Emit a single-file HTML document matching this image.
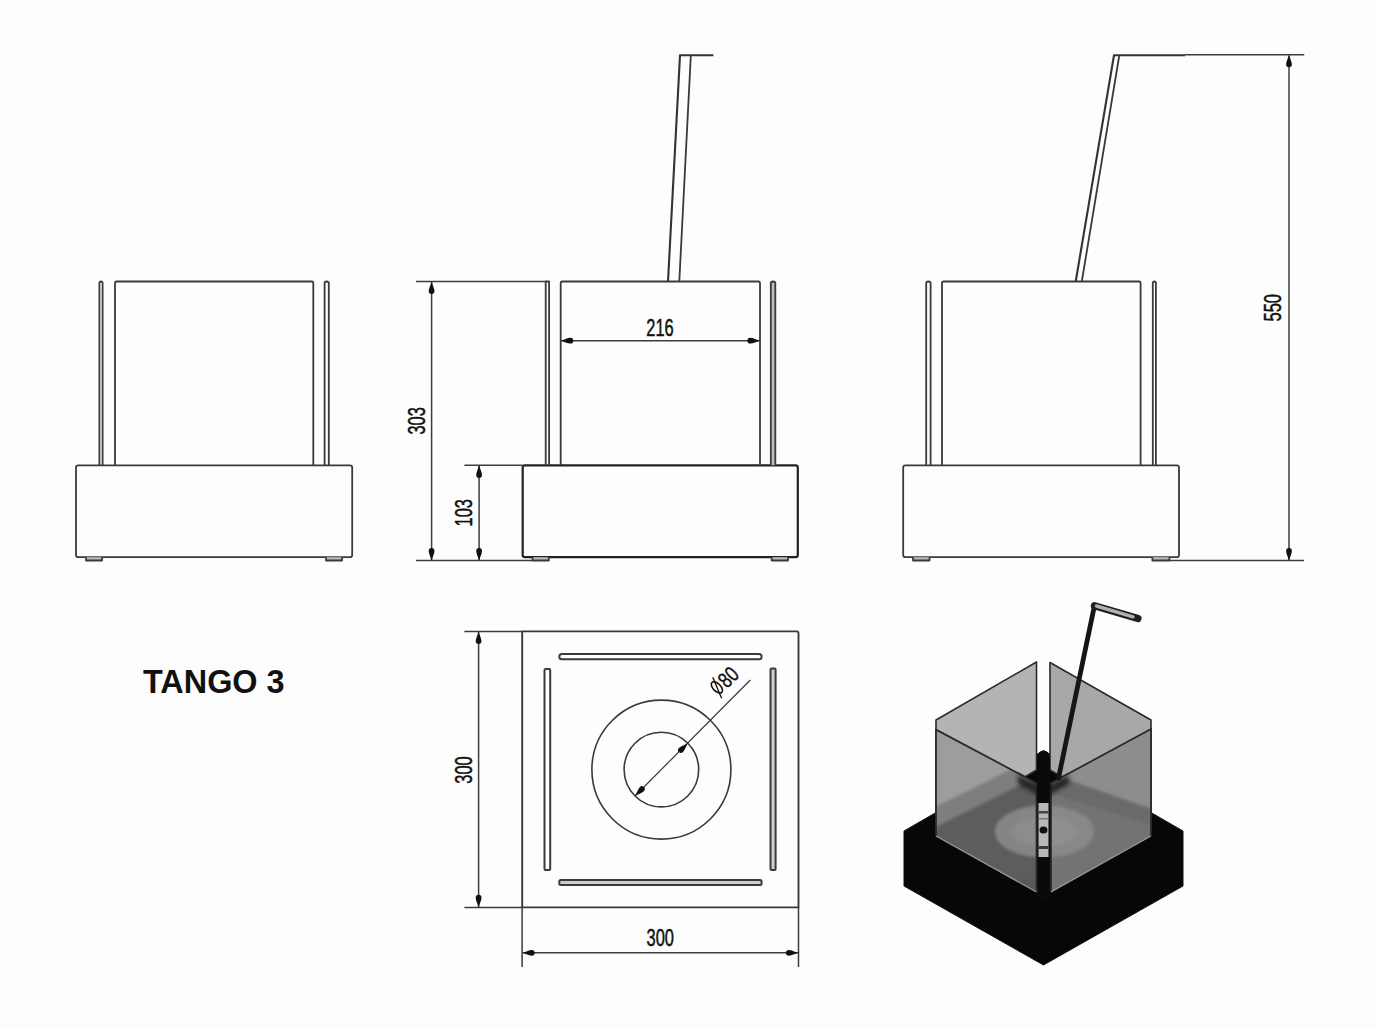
<!DOCTYPE html>
<html><head><meta charset="utf-8">
<style>
html,body{margin:0;padding:0;background:#fdfdfd;}
body{width:1377px;height:1029px;overflow:hidden;position:relative;}
svg{position:absolute;left:0;top:0;}
text{font-family:"Liberation Sans",sans-serif;fill:#111;}
</style></head><body>
<svg width="1377" height="1029" viewBox="0 0 1377 1029">
<defs>
<path id="arr" d="M0,0 C-0.7,-3 -2.9,-7 -2.9,-9.6 Q-2.9,-12.6 0,-12.6 Q2.9,-12.6 2.9,-9.6 C2.9,-7 0.7,-3 0,0 Z"/>
</defs>
<g fill="none" stroke="#3a3a3a" stroke-width="1.8" stroke-linejoin="round">
<!-- VIEW 1 -->
<path d="M76,467.5 Q76,465.3 78.2,465.3 L350,465.3 Q352.2,465.3 352.2,467.5 L352.2,555 Q352.2,557.2 350,557.2 L78.2,557.2 Q76,557.2 76,555 Z"/>
<path d="M86,557.2 L86,560.5 L102,560.5 L102,557.2" fill="#bbb"/>
<path d="M326,557.2 L326,560.5 L342,560.5 L342,557.2" fill="#bbb"/>
<path d="M99.4,465.3 L99.4,282.5 Q101,280.5 102.6,282.5 L102.6,465.3"/>
<path d="M115,465.3 L115,283 Q115,281.5 116.5,281.5 L311.8,281.5 Q313.3,281.5 313.3,283 L313.3,465.3"/>
<path d="M324.6,465.3 L324.6,282.5 Q326.7,280.5 328.8,282.5 L328.8,465.3"/>

<!-- VIEW 2 -->
<path d="M522.7,467.5 Q522.7,465.3 524.9,465.3 L795.6,465.3 Q797.8,465.3 797.8,467.5 L797.8,555 Q797.8,557.2 795.6,557.2 L524.9,557.2 Q522.7,557.2 522.7,555 Z" stroke-width="2.2" stroke="#222"/>
<path d="M532.5,557.2 L532.5,560.5 L548.8,560.5 L548.8,557.2" fill="#bbb"/>
<path d="M771.7,557.2 L771.7,560.5 L788,560.5 L788,557.2" fill="#bbb"/>
<path d="M545.7,465.3 L545.7,281.5 L549.1,281.5 L549.1,465.3"/>
<path d="M560.7,465.3 L560.7,283 Q560.7,281.5 562.2,281.5 L758.5,281.5 Q760,281.5 760,283 L760,465.3"/>
<path d="M770.8,465.3 L770.8,282.5 Q773,280.5 775.3,282.5 L775.3,465.3" fill="#bdbdbd"/>
<path d="M668,281.5 L680,55.2 L713.4,55.2" stroke="#333" stroke-width="2.1"/>
<path d="M679.3,281.5 L690.8,56"/>
<!-- dims -->
<g stroke-width="1.5" stroke="#3c3c3c">
<path d="M416,281.5 L545.7,281.5"/>
<path d="M416,560.5 L532.5,560.5"/>
<path d="M431.6,282 L431.6,560"/>
<path d="M464.4,465.3 L522.7,465.3"/>
<path d="M479.1,466 L479.1,560"/>
<path d="M561,340.7 L760,340.7"/>
</g>
</g>
<g fill="#111" stroke="none">
<use href="#arr" transform="translate(431.6,281.5) rotate(180)"/>
<use href="#arr" transform="translate(431.6,560.5)"/>
<use href="#arr" transform="translate(479.1,465.3) rotate(180)"/>
<use href="#arr" transform="translate(479.1,560.5)"/>
<use href="#arr" transform="translate(560.7,340.7) rotate(90)"/>
<use href="#arr" transform="translate(760,340.7) rotate(-90)"/>
</g>

<!-- TEXTS -->
<g fill="#111" stroke="none">
<text x="0" y="0" font-size="23.5" stroke="#111" stroke-width="0.5" transform="translate(660,335.6) scale(0.7,1)" text-anchor="middle">216</text>
<text x="0" y="0" font-size="23.5" stroke="#111" stroke-width="0.5" transform="translate(424.5,420.9) rotate(-90) scale(0.7,1)" text-anchor="middle">303</text>
<text x="0" y="0" font-size="23.5" stroke="#111" stroke-width="0.5" transform="translate(471.9,512.8) rotate(-90) scale(0.7,1)" text-anchor="middle">103</text>
<text x="0" y="0" font-size="23.5" stroke="#111" stroke-width="0.5" transform="translate(1281.2,307.7) rotate(-90) scale(0.7,1)" text-anchor="middle">550</text>
<text x="0" y="0" font-size="23.5" stroke="#111" stroke-width="0.5" transform="translate(471.9,770) rotate(-90) scale(0.7,1)" text-anchor="middle">300</text>
<text x="0" y="0" font-size="23.5" stroke="#111" stroke-width="0.5" transform="translate(660.2,945.8) scale(0.7,1)" text-anchor="middle">300</text>
<text x="143" y="693" font-size="33.5" font-weight="bold" fill="#000" textLength="141.5" lengthAdjust="spacingAndGlyphs">TANGO 3</text>
</g>
<!-- VIEW 3 -->
<g fill="none" stroke="#3a3a3a" stroke-width="1.8" stroke-linejoin="round">
<path d="M903.2,467.5 Q903.2,465.3 905.4,465.3 L1176.8,465.3 Q1179,465.3 1179,467.5 L1179,555 Q1179,557.2 1176.8,557.2 L905.4,557.2 Q903.2,557.2 903.2,555 Z"/>
<path d="M913,557.2 L913,560.5 L929.5,560.5 L929.5,557.2" fill="#bbb"/>
<path d="M1152.4,557.2 L1152.4,560.5 L1169.4,560.5 L1169.4,557.2" fill="#bbb"/>
<path d="M926.2,465.3 L926.2,282.5 Q928.4,280.5 930.6,282.5 L930.6,465.3"/>
<path d="M942,465.3 L942,283 Q942,281.5 943.5,281.5 L1139.1,281.5 Q1140.6,281.5 1140.6,283 L1140.6,465.3"/>
<path d="M1152.8,465.3 L1152.8,282.5 Q1154.3,280.5 1155.9,282.5 L1155.9,465.3"/>
<path d="M1075.7,281.5 L1114,55.3 L1185,55.3" stroke="#333" stroke-width="2.1"/>
<path d="M1081.8,281.5 L1119.2,56"/>
<g stroke-width="1.5" stroke="#3c3c3c">
<path d="M1185,54.7 L1304.2,54.7"/>
<path d="M1169.4,560.5 L1304,560.5"/>
<path d="M1289,55.5 L1289,560"/>
</g>
</g>
<g fill="#111" stroke="none">
<use href="#arr" transform="translate(1289,54.7) rotate(180)"/>
<use href="#arr" transform="translate(1289,560.5)"/>
</g>
<!-- TOP VIEW -->
<g fill="none" stroke="#3a3a3a" stroke-width="1.9" stroke-linejoin="round">
<path d="M522.2,907.4 L522.2,631.4 L796.5,631.4 Q798.5,631.4 798.5,633.4 L798.5,907.4 Z"/>
<rect x="559.3" y="654" width="202.3" height="5.3" rx="2.6" stroke-width="2"/>
<rect x="559.3" y="880" width="202.3" height="5" rx="1.5" fill="#ccc" stroke-width="2"/>
<rect x="544.5" y="669" width="5.7" height="201" rx="1" stroke-width="2"/>
<rect x="770.5" y="668.6" width="5.1" height="201.4" rx="1" fill="#ccc" stroke-width="2"/>
<circle cx="661.4" cy="769.6" r="69.5" stroke-width="1.6"/>
<circle cx="661.4" cy="769.6" r="37.3" stroke-width="1.6"/>
<path d="M635,796 L750.3,680" stroke-width="1.2"/>
<g stroke-width="1.5" stroke="#3c3c3c">
<path d="M464.4,631.4 L522.2,631.4"/>
<path d="M464.4,907.4 L522.2,907.4"/>
<path d="M478.6,632 L478.6,907"/>
<path d="M522.1,907.4 L522.1,967"/>
<path d="M798.5,907.4 L798.5,967"/>
<path d="M523,952.8 L798,952.8"/>
</g>
</g>
<g fill="#111" stroke="none">
<use href="#arr" transform="translate(478.6,631.4) rotate(180)"/>
<use href="#arr" transform="translate(478.6,907.4)"/>
<use href="#arr" transform="translate(522.1,952.8) rotate(90)"/>
<use href="#arr" transform="translate(798.5,952.8) rotate(-90)"/>
<use href="#arr" transform="translate(635,796) rotate(45)"/>
<use href="#arr" transform="translate(687.8,743.2) rotate(225)"/>
</g>
<g transform="translate(724.8,680.2) rotate(-45)">
<text x="-6.1" y="7.9" font-size="22" transform="scale(0.764,1)" fill="#111" stroke="#111" stroke-width="0.4">80</text>
<ellipse cx="-10.7" cy="-0.5" rx="3.8" ry="7" fill="none" stroke="#111" stroke-width="1.6"/>
<path d="M-6.5,-10.5 L-15,10.5" stroke="#111" stroke-width="1.3"/>
</g>

<!-- 3D VIEW -->
<defs>
<clipPath id="clFL"><polygon points="936,729.6 1036.5,783 1036.5,892 936,836"/></clipPath>
<clipPath id="clFR"><polygon points="1051,783 1151,729 1151,836 1051,892"/></clipPath>
<linearGradient id="gFL" x1="0" y1="0" x2="1" y2="1">
<stop offset="0" stop-color="#a2a2a2"/><stop offset="1" stop-color="#8e8e8e"/></linearGradient>
<linearGradient id="gFR" x1="0" y1="0" x2="1" y2="1">
<stop offset="0" stop-color="#8c8c8c"/><stop offset="1" stop-color="#959595"/></linearGradient>
</defs>
<g>
<polygon points="904,831 1043.5,750.5 1183,831 1183,886 1043.5,965 904,886" fill="#070707" stroke="#111" stroke-width="1"/>
<polygon points="936,720 1036.5,662 1036.5,770 936,830" fill="#b4b4b4" stroke="#2a2a2a" stroke-width="1.6" stroke-linejoin="round"/>
<polygon points="1050,662.5 1151,720 1151,830 1050,770" fill="#a8a8a8" stroke="#2a2a2a" stroke-width="1.6" stroke-linejoin="round"/>
<!-- FL -->
<defs><filter id="bl1" x="-20%" y="-20%" width="140%" height="140%"><feGaussianBlur stdDeviation="1.6"/></filter></defs>
<g clip-path="url(#clFL)">
<rect x="930" y="720" width="110" height="180" fill="#9d9d9d"/>
<g filter="url(#bl1)">
<polygon points="925,812 1040,755 1040,777 925,834" fill="#7e7e7e"/>
<polygon points="925,832 1040,775 1045,900 925,900" fill="#5d5d5d"/>
<ellipse cx="1044.5" cy="831.5" rx="49.5" ry="26" fill="#858585"/>
<ellipse cx="1044.5" cy="831.5" rx="32" ry="15" fill="#8c8c8c"/>
<polygon points="925,875 1040,880 1040,905 925,905" fill="#555" opacity="0.6"/>
</g>
</g>
<!-- FR -->
<g clip-path="url(#clFR)">
<rect x="1045" y="720" width="110" height="180" fill="#8d8d8d"/>
<g filter="url(#bl1)">
<polygon points="1045,772 1160,812 1160,900 1045,900" fill="#737373"/>
<polygon points="1045,772 1160,812 1160,828 1045,792" fill="#6b6b6b"/>
<ellipse cx="1044.5" cy="831.5" rx="49.5" ry="26" fill="#888"/>
<ellipse cx="1044.5" cy="831.5" rx="32" ry="15" fill="#8f8f8f"/>
</g>
</g>
<!-- gap post -->
<path d="M1037,900 L1037,760 Q1037,751 1043.5,751 Q1050,751 1050,760 L1050,900 Z" fill="#0a0a0a"/>
<rect x="1038.5" y="801" width="10" height="56" fill="#b8b8b8"/>
<rect x="1038.5" y="811" width="10" height="2.5" fill="#444"/><rect x="1038.5" y="818" width="10" height="1.5" fill="#777"/>
<rect x="1038.5" y="846" width="10" height="3" fill="#3a3a3a"/>
<ellipse cx="1043.5" cy="830" rx="4" ry="3.5" fill="#111"/>
<g fill="none" stroke="#2a2a2a" stroke-width="1.8" stroke-linejoin="round">
<polyline points="936,836 936,729.6 1036.5,783 1036.5,892"/>
<polyline points="1051,892 1051,783 1151,729 1151,836"/>
</g>
<path d="M936,836 L1036.5,892 M1051,892 L1151,836" stroke="#9a9a9a" stroke-width="1.2"/>
<defs><filter id="bl2" x="-50%" y="-50%" width="200%" height="200%"><feGaussianBlur stdDeviation="2.2"/></filter></defs>
<path d="M1018,775 L1043.5,788 L1069,775 L1069,784 L1043.5,798 L1018,784 Z" fill="#1a1a1a" filter="url(#bl2)" opacity="0.9"/>
<path d="M1037,760 Q1037,751 1043.5,751 Q1050,751 1050,760 L1050,803 L1037,803 Z" fill="#0a0a0a"/>
<!-- handle -->
<path d="M1058.5,778 L1094.4,606" stroke="#151515" stroke-width="4.8" stroke-linecap="round"/>
<path d="M1094.4,605.7 L1138,618.5" stroke="#1e1e1e" stroke-width="7.2" stroke-linecap="round"/>
<path d="M1096.5,606 L1133,616.8" stroke="#b0b0b0" stroke-width="3.4" stroke-linecap="round"/>
</g>
</svg>
</body></html>
